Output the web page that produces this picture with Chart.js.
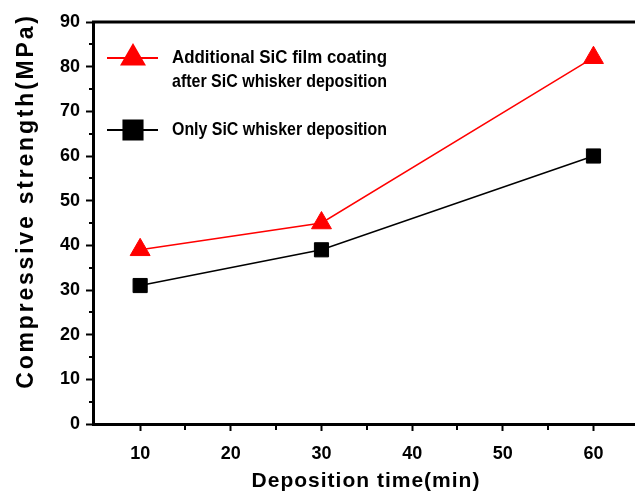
<!DOCTYPE html>
<html>
<head>
<meta charset="utf-8">
<script src="https://cdn.jsdelivr.net/npm/chart.js@4.4.0/dist/chart.umd.min.js"></script>
<style>
  html, body { margin: 0; padding: 0; background: #fff; overflow: hidden; }
  #wrap { width: 640px; height: 494px; }
</style>
</head>
<body>
<div id="wrap"><canvas id="myChart" width="640" height="494"></canvas></div>
<script>
// Chart data
var depositionTime = [10, 30, 60];
var withFilm = [39, 45, 82];
var whiskerOnly = [31, 39, 60];
var xTicks = [10, 20, 30, 40, 50, 60];
var xMinor = [15, 25, 35, 45, 55];
var yTicks = [0, 10, 20, 30, 40, 50, 60, 70, 80, 90];
var yMinor = [5, 15, 25, 35, 45, 55, 65, 75, 85];
var legendLabels = [
    ['Additional SiC film coating', 'after SiC whisker deposition'],
    ['Only SiC whisker deposition']
];

var FONT = '"Liberation Sans", Arial, sans-serif';

function toPoints(xs, ys) {
    return xs.map(function(x, i) { return { x: x, y: ys[i] }; });
}

// Draws frame top line, minor ticks, legend box and axis titles
var extras = {
    id: 'extras',
    afterDraw: function(chart) {
        var ctx = chart.ctx;
        var area = chart.chartArea;
        var xs = chart.scales.x;
        var ys = chart.scales.y;
        ctx.save();
        ctx.strokeStyle = '#000';
        ctx.lineWidth = 3;
        ctx.beginPath();
        ctx.moveTo(area.left - 1, area.top);
        ctx.lineTo(chart.width, area.top);
        ctx.stroke();

        // minor ticks
        ctx.lineWidth = 2;
        xMinor.forEach(function(v) {
            var px = Math.round(xs.getPixelForValue(v));
            ctx.beginPath();
            ctx.moveTo(px, area.bottom);
            ctx.lineTo(px, area.bottom + 6);
            ctx.stroke();
        });
        yMinor.forEach(function(v) {
            var py = Math.round(ys.getPixelForValue(v));
            ctx.beginPath();
            ctx.moveTo(area.left, py);
            ctx.lineTo(area.left - 4, py);
            ctx.stroke();
        });

        // legend
        var rows = [58, 130];
        var sizes = [13, 13.5];
        chart.data.datasets.forEach(function(ds, i) {
            var y = rows[i];
            ctx.strokeStyle = ds.borderColor;
            ctx.lineWidth = 2;
            ctx.beginPath();
            ctx.moveTo(107, y);
            ctx.lineTo(158, y);
            ctx.stroke();
            Chart.helpers.drawPoint(ctx, {
                pointStyle: ds.pointStyle,
                radius: sizes[i],
                borderWidth: 1
            }, 133, y);
            ctx.fillStyle = ds.pointBackgroundColor;
            ctx.fill();
            ctx.fillStyle = '#000';
            ctx.font = 'bold 19px ' + FONT;
            ctx.textBaseline = 'middle';
            ctx.textAlign = 'left';
            legendLabels[i].forEach(function(line, j) {
                ctx.fillText(line, 172, y + j * 24, 215);
            });
        });

        // axis titles
        ctx.fillStyle = '#000';
        ctx.font = 'bold 21px ' + FONT;
        ctx.textAlign = 'center';
        ctx.textBaseline = 'middle';
        ctx.letterSpacing = '1px';
        ctx.fillText('Deposition time(min)', 366, 481);
        ctx.font = 'bold 23px ' + FONT;
        ctx.letterSpacing = '2.8px';
        ctx.translate(27, 201);
        ctx.rotate(-Math.PI / 2);
        ctx.fillText('Compressive strength(MPa)', 0, 0);
        ctx.restore();
    }
};

var ctx = document.getElementById('myChart').getContext('2d');
var myChart = new Chart(ctx, {
    type: 'line',
    data: {
        datasets: [{
            label: legendLabels[0].join(' '),
            data: toPoints(depositionTime, withFilm),
            borderColor: '#ff0000',
            borderWidth: 1.5,
            pointStyle: 'triangle',
            pointRadius: 11.5,
            pointBackgroundColor: '#ff0000',
            pointBorderColor: '#ff0000',
            pointBorderWidth: 1
        }, {
            label: legendLabels[1].join(' '),
            data: toPoints(depositionTime, whiskerOnly),
            borderColor: '#000000',
            borderWidth: 1.5,
            pointStyle: 'rect',
            pointRadius: 10,
            pointBackgroundColor: '#000000',
            pointBorderColor: '#000000',
            pointBorderWidth: 1
        }]
    },
    options: {
        responsive: false,
        animation: false,
        layout: { autoPadding: false, padding: { left: 0, top: 22, right: 3, bottom: 0 } },
        plugins: { legend: { display: false }, tooltip: { enabled: false } },
        scales: {
            x: {
                type: 'linear',
                min: 4.8,
                max: 64.8,
                afterBuildTicks: function(scale) {
                    scale.ticks = xTicks.map(function(v) { return { value: v }; });
                },
                afterFit: function(scale) {
                    scale.height = 70;
                    scale.paddingLeft = 0;
                    scale.paddingRight = 0;
                },
                grid: { drawOnChartArea: false, drawTicks: true, tickLength: 7, tickWidth: 2, color: '#000' },
                border: { display: true, color: '#000', width: 3 },
                ticks: { color: '#000', padding: 12, maxRotation: 0, font: { family: FONT, size: 18, weight: 'bold' } }
            },
            y: {
                min: 0,
                max: 90,
                afterBuildTicks: function(scale) {
                    scale.ticks = yTicks.map(function(v) { return { value: v }; });
                },
                afterFit: function(scale) {
                    scale.width = 93;
                    scale.paddingTop = 0;
                    scale.paddingBottom = 0;
                },
                grid: { drawOnChartArea: false, drawTicks: true, tickLength: 7, tickWidth: 2, color: '#000' },
                border: { display: true, color: '#000', width: 3 },
                ticks: { color: '#000', padding: 6, font: { family: FONT, size: 18, weight: 'bold' } }
            }
        }
    },
    plugins: [extras]
});
</script>
</body>
</html>
